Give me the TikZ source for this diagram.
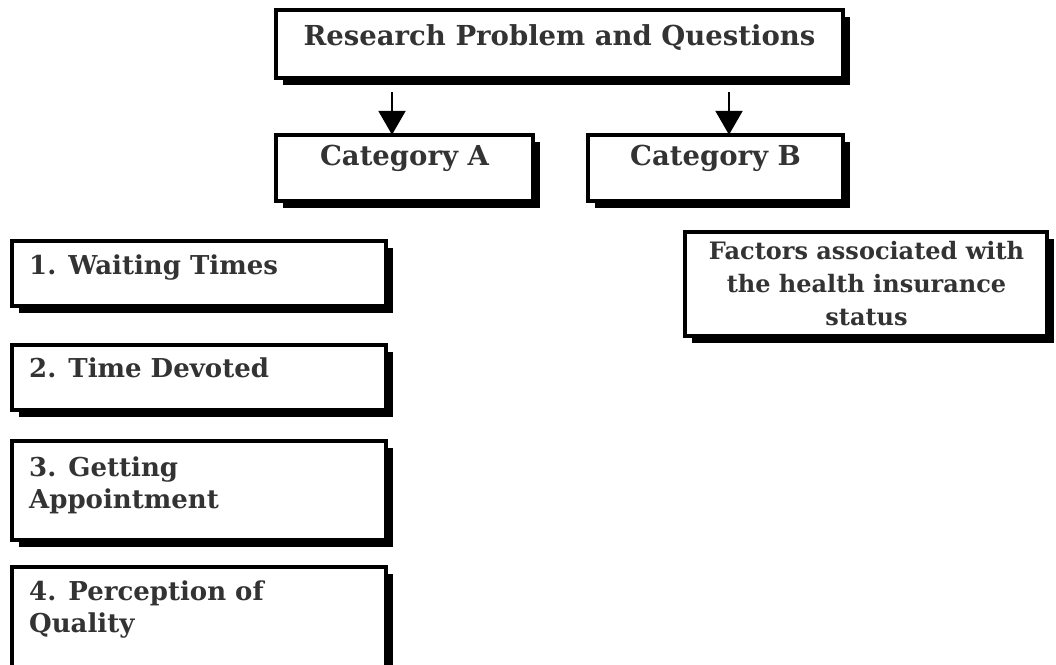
\documentclass[tikz,border=0pt]{standalone}
\usepackage{fontspec}
\setmainfont{DejaVu Serif}
\usetikzlibrary{arrows.meta,shadows}
\definecolor{ink}{HTML}{333333}
\begin{document}
\begin{tikzpicture}[x=1pt,y=-1pt,
  frame/.style={draw=black, line width=3.5pt, fill=white, inner sep=0pt,
    outer sep=0pt, anchor=north west,
    drop shadow={shadow xshift=7pt, shadow yshift=-7pt, fill=black, opacity=1}},
  caption/.style={text=ink, inner sep=0pt, font=\fontsize{27.5}{32.5}\selectfont\bfseries},
  item/.style={caption, anchor=base west, align=left, font=\fontsize{26}{32}\selectfont\bfseries},
  note/.style={caption, anchor=base, align=center, font=\fontsize{24}{33}\selectfont\bfseries},
  flow/.style={draw=black, line width=2.5pt, -{Triangle[width=27pt,length=24pt]}}
]
\useasboundingbox (0,0) rectangle (1056,664);
\clip (0,0) rectangle (1056,664);

% boxes
\node[frame, minimum width=567pt, minimum height=68pt]  (top)  at (275.75,9.75)   {};
\node[frame, minimum width=257pt, minimum height=66pt]  (catA) at (275.75,134.75) {};
\node[frame, minimum width=255pt, minimum height=66pt]  (catB) at (587.75,134.75) {};
\node[frame, minimum width=374pt, minimum height=65pt]  (b1)   at (11.75,240.75)  {};
\node[frame, minimum width=374pt, minimum height=65pt]  (b2)   at (11.75,344.75)  {};
\node[frame, minimum width=374pt, minimum height=99pt]  (b3)   at (11.75,440.75)  {};
\node[frame, minimum width=374pt, minimum height=121pt] (b4)   at (11.75,566.75)  {};
\node[frame, minimum width=362pt, minimum height=104pt] (fac)  at (684.75,231.75) {};

% texts (multi-line captions are placed by the baseline of their last line)
\node[caption, anchor=base] (top-t)  at (559.5,45)  {Research Problem and Questions};
\node[caption, anchor=base] (catA-t) at (404.5,165) {Category A};
\node[caption, anchor=base] (catB-t) at (715.5,165) {Category B};
\node[item] (b1-t) at (29,274)   {1. Waiting Times};
\node[item] (b2-t) at (29,377)   {2. Time Devoted};
\node[item] (b3-t) at (29,508)   {3. Getting\\Appointment};
\node[item] (b4-t) at (29,632)   {4. Perception of\\Quality};
\node[note] (fac-t) at (866.5,325)
  {Factors associated with\\the health insurance\\status};

% arrows
\coordinate (a1) at (392,92);
\coordinate (a2) at (729,92);
\draw[flow] (a1) -- (a1 |- catA.north);
\draw[flow] (a2) -- (a2 |- catB.north);
\end{tikzpicture}
\end{document}
